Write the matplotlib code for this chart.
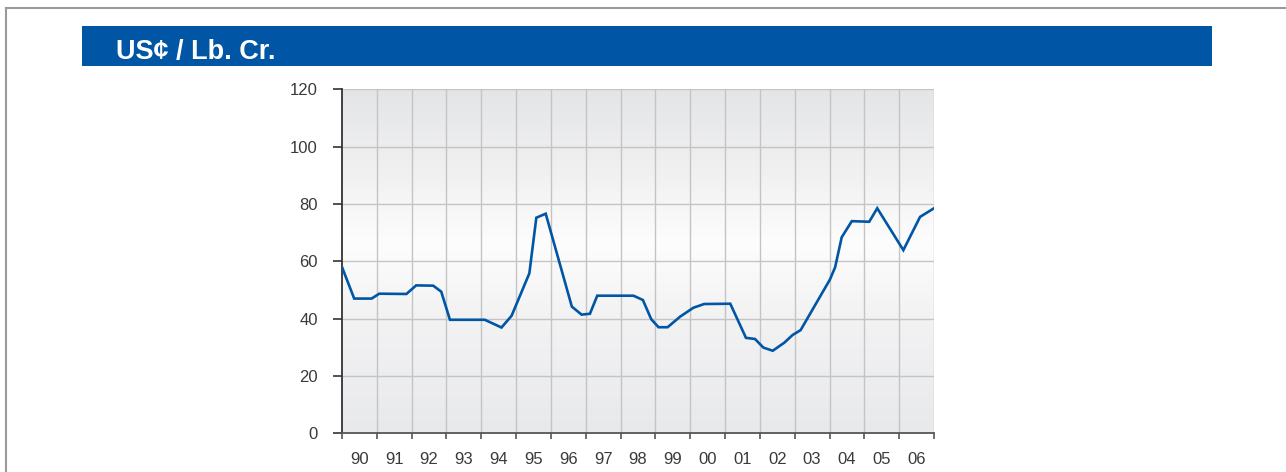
import matplotlib
matplotlib.use("Agg")
import matplotlib.pyplot as plt
import numpy as np
from matplotlib.colors import LinearSegmentedColormap
from matplotlib.patches import Rectangle
from matplotlib.lines import Line2D

plt.rcParams['font.family'] = ['Liberation Sans', 'DejaVu Sans']

title = "US\u00a2 / Lb. Cr."
year_labels = ['90', '91', '92', '93', '94', '95', '96', '97', '98', '99',
               '00', '01', '02', '03', '04', '05', '06']
first_year = 1990
# time (fractional years) and price (US cents / lb Cr.)
t = [1990.00, 1990.35, 1990.85, 1991.07, 1991.85, 1992.13, 1992.62, 1992.85,
     1993.10, 1994.10, 1994.58, 1994.87, 1995.38, 1995.58, 1995.85, 1996.60,
     1996.88, 1997.12, 1997.33, 1998.37, 1998.64, 1998.88, 1999.09, 1999.35,
     1999.71, 2000.09, 2000.40, 2001.15, 2001.60, 2001.86, 2002.10, 2002.37,
     2002.70, 2002.94, 2003.17, 2004.01, 2004.16, 2004.35, 2004.64, 2005.14,
     2005.37, 2006.12, 2006.60, 2007.00]
price = [58.0, 47.0, 47.0, 48.7, 48.6, 51.6, 51.5, 49.4,
         39.6, 39.6, 36.9, 41.0, 55.8, 75.2, 76.6, 44.2,
         41.4, 41.7, 48.0, 48.0, 46.5, 39.8, 37.0, 37.0,
         40.7, 43.8, 45.1, 45.2, 33.3, 32.9, 29.9, 28.8,
         31.6, 34.3, 36.0, 53.6, 57.9, 68.4, 74.0, 73.8,
         78.5, 63.9, 75.5, 78.5]
y_ticks = [0, 20, 40, 60, 80, 100, 120]

W, H = 1286, 472
fig = plt.figure(figsize=(W / 100, H / 100), dpi=100)
fig.patch.set_facecolor('white')

# outer frame (left and top only)
fig.add_artist(Line2D([5.5 / W, 5.5 / W], [0, 1 - 7.5 / H], transform=fig.transFigure,
                      color='#9a9a9a', lw=1.5))
fig.add_artist(Line2D([5.5 / W, 1], [1 - 7.5 / H, 1 - 7.5 / H], transform=fig.transFigure,
                      color='#9a9a9a', lw=1.5))

# header bar
fig.add_artist(Rectangle((82 / W, 1 - 65.7 / H), (1212 - 82) / W, (65.7 - 26) / H,
                         transform=fig.transFigure, facecolor='#0056a5', edgecolor='none'))
fig.text(116 / W, 1 - 59.5 / H, title, color='white', fontsize=19.5, fontweight='bold',
         va='baseline', ha='left')

ax = fig.add_axes([342 / W, 1 - 433.3 / H, (934 - 342) / W, (433.3 - 89.3) / H])
n_years = len(year_labels)
x0, x1 = first_year, first_year + n_years
ax.set_xlim(x0, x1)
ax.set_ylim(0, 120)

# gradient background
cmap = LinearSegmentedColormap.from_list('bg', [(0.0, '#e8e9eb'), (0.35, '#f3f3f4'),
                                                (0.55, '#fdfdfd'), (0.75, '#f1f1f2'),
                                                (1.0, '#e4e5e7')])
grad = np.linspace(0, 1, 256).reshape(-1, 1)
ax.imshow(grad, cmap=cmap, aspect='auto', extent=[x0, x1, 0, 120], origin='lower',
          zorder=0)

# grid
for yv in y_ticks[1:]:
    ax.axhline(yv, color='#c4c4c4', lw=1.0, zorder=1)
for xv in range(x0 + 1, x1 + 1):
    ax.axvline(xv, color='#c4c4c4', lw=1.0, zorder=1)

ax.plot(t, price, color='#0056a5', lw=1.9, zorder=3, solid_joinstyle='miter')

for s in ['top', 'right']:
    ax.spines[s].set_visible(False)
ax.spines['left'].set_color('#333333')
ax.spines['left'].set_linewidth(1.3)
ax.spines['bottom'].set_color('#555555')
ax.spines['bottom'].set_linewidth(1.3)

ax.set_yticks(y_ticks)
ax.set_yticklabels([str(v) for v in y_ticks])
ax.tick_params(axis='y', length=6.5, width=1.2, color='#333333', pad=11,
               labelsize=12, labelcolor='#3a3a3a')

ax.set_xticks(range(x0, x1 + 1))
ax.set_xticklabels([])
ax.tick_params(axis='x', which='major', length=4, width=1.2, color='#555555')
ax.set_xticks([x0 + i + 0.5 for i in range(n_years)], minor=True)
ax.set_xticklabels(year_labels, minor=True)
ax.tick_params(axis='x', which='minor', length=0, pad=13.5, labelsize=12,
               labelcolor='#3a3a3a')

fig.savefig('out.png', dpi=100, facecolor='white')
